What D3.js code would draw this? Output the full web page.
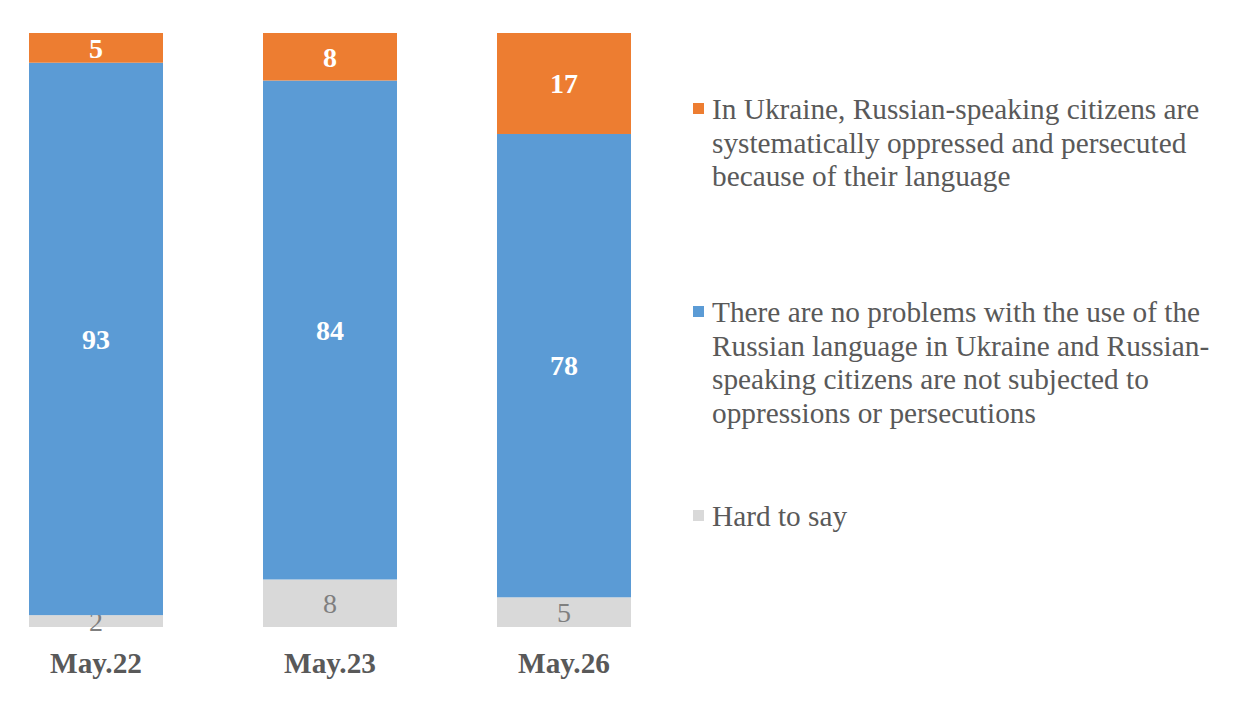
<!DOCTYPE html>
<html><head><meta charset="utf-8">
<script src="https://cdn.jsdelivr.net/npm/d3@7/dist/d3.min.js"></script>
<style>body{margin:0;background:#fff}svg{display:block}</style>
</head><body>
<svg id="c" width="1240" height="726"></svg>
<script>
const categories = ["May.22", "May.23", "May.26"];
const oppressed = [5, 8, 17];
const noProblems = [93, 84, 78];
const hardToSay = [2, 8, 5];
const seriesNames = [
  ["In Ukraine, Russian-speaking citizens are", "systematically oppressed and persecuted", "because of their language"],
  ["There are no problems with the use of the", "Russian language in Ukraine and Russian-", "speaking citizens are not subjected to", "oppressions or persecutions"],
  ["Hard to say"]
];
const colors = ["#ED7D31", "#5B9BD5", "#D9D9D9"];
const labelColors = ["#FFFFFF", "#FFFFFF", "#7F7F7F"];
const labelWeights = ["bold", "bold", "normal"];

const svg = d3.select("#c");
const font = "'Liberation Serif','Times New Roman',serif";

const rows = categories.map((c, i) => ({cat: c, s2: hardToSay[i], s1: noProblems[i], s0: oppressed[i]}));
const keys = ["s2", "s1", "s0"]; // bottom to top
const stack = d3.stack().keys(keys)(rows);

const xs = d3.scaleBand().domain(categories).range([29, 631]).paddingInner(100/234);
const y = d3.scaleLinear().domain([0, 100]).range([627, 33]);

const keyIdx = {s0: 0, s1: 1, s2: 2};
stack.forEach(layer => {
  const si = keyIdx[layer.key];
  const g = svg.append("g");
  g.selectAll("rect").data(layer).join("rect")
    .attr("x", d => xs(d.data.cat))
    .attr("width", xs.bandwidth())
    .attr("y", d => y(d[1]))
    .attr("height", d => y(d[0]) - y(d[1]))
    .attr("fill", colors[si]);
  g.selectAll("text").data(layer).join("text")
    .attr("x", d => xs(d.data.cat) + xs.bandwidth() / 2)
    .attr("y", d => (y(d[0]) + y(d[1])) / 2)
    .attr("dy", "0.35em")
    .attr("text-anchor", "middle")
    .attr("font-family", font)
    .attr("font-size", 28)
    .attr("font-weight", labelWeights[si])
    .attr("fill", labelColors[si])
    .text(d => d[1] - d[0]);
});

// category axis labels
svg.append("g").selectAll("text").data(categories).join("text")
  .attr("x", d => xs(d) + xs.bandwidth() / 2)
  .attr("y", 673)
  .attr("text-anchor", "middle")
  .attr("font-family", font)
  .attr("font-size", 29.3)
  .attr("font-weight", "bold")
  .attr("fill", "#595959")
  .text(d => d);

// legend
const legendTop = [119, 322, 526];
const lineH = 33.6;
const lg = svg.append("g");
seriesNames.forEach((lines, i) => {
  lg.append("rect")
    .attr("x", 693).attr("y", legendTop[i] - 16)
    .attr("width", 11).attr("height", 11)
    .attr("fill", colors[i]);
  const t = lg.append("text")
    .attr("font-family", font)
    .attr("font-size", 29.3)
    .attr("fill", "#595959");
  lines.forEach((ln, j) => {
    t.append("tspan").attr("x", 712).attr("y", legendTop[i] + j * lineH).text(ln);
  });
});
</script>
</body></html>
